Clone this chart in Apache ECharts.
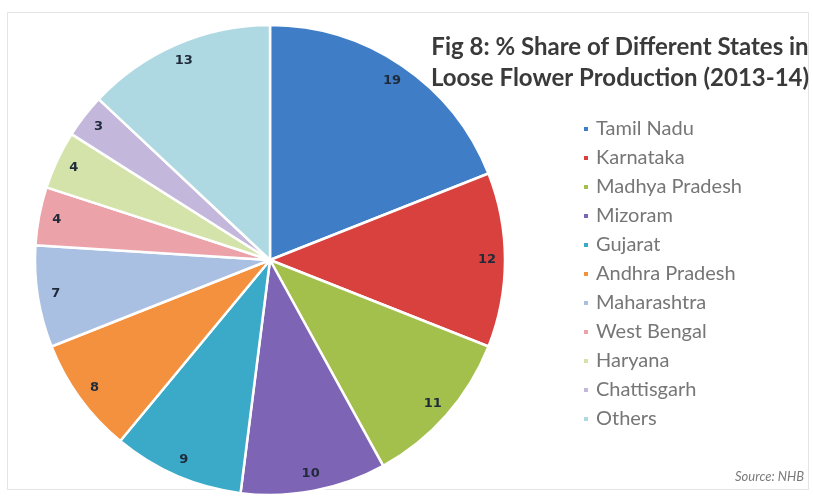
<!DOCTYPE html>
<html>
<head>
<meta charset="utf-8">
<script src="https://cdn.jsdelivr.net/npm/echarts@6/dist/echarts.min.js"></script>
<style>
  html, body { margin: 0; padding: 0; background: #ffffff; }
  #chart { width: 813px; height: 496px; }
</style>
</head>
<body>
<div id="chart"></div>
<script>
// State-wise share of loose flower production, 2013-14 (%)
const states = ['Tamil Nadu', 'Karnataka', 'Madhya Pradesh', 'Mizoram', 'Gujarat',
  'Andhra Pradesh', 'Maharashtra', 'West Bengal', 'Haryana', 'Chattisgarh', 'Others'];
const shares = [19, 12, 11, 10, 9, 8, 7, 4, 4, 3, 13];
const sliceColors = ['#3f7dc6', '#d8413d', '#a3bf4c', '#7e64b4', '#3aaac8', '#f3913f',
  '#a9c0e2', '#eba2a8', '#d4e3a9', '#c4b7dc', '#aed9e3'];

const titleLines = ['Fig 8: % Share of Different States in', 'Loose Flower Production (2013-14)'];
const sourceNote = 'Source: NHB';

const pieData = states.map((name, i) => ({
  name: name,
  value: shares[i],
  itemStyle: { color: sliceColors[i] }
}));

const chart = echarts.init(document.getElementById('chart'), null, { renderer: 'canvas' });

chart.setOption({
  backgroundColor: '#ffffff',
  animation: false,
  title: {
    text: titleLines.join('\n'),
    left: 615,
    top: 27,
    textAlign: 'center',
    textStyle: {
      fontFamily: 'Lato',
      fontWeight: 'bold',
      fontSize: 24,
      lineHeight: 31,
      color: '#3a3a3a'
    }
  },
  legend: {
    orient: 'vertical',
    left: 577,
    top: 114,
    itemWidth: 6,
    itemHeight: 6,
    itemGap: 9,
    icon: 'rect',
    data: states,
    textStyle: {
      fontFamily: 'Lato',
      fontSize: 20,
      lineHeight: 20,
      color: '#767676',
      padding: [0, 0, 0, 2]
    }
  },
  graphic: [
    {
      type: 'rect',
      shape: { x: 7.5, y: 12.5, width: 801, height: 477 },
      style: { fill: 'none', stroke: '#e4e4e4', lineWidth: 1 },
      z: -1
    },
    {
      type: 'text',
      right: 9,
      top: 470,
      style: {
        text: sourceNote,
        fontFamily: 'Lato',
        fontStyle: 'italic',
        fontSize: 13,
        fill: '#7a7a7a'
      }
    }
  ],
  series: [
    {
      name: 'share',
      type: 'pie',
      center: [270, 260],
      radius: [0, 235],
      startAngle: 90,
      clockwise: true,
      avoidLabelOverlap: false,
      label: { show: false },
      labelLine: { show: false },
      itemStyle: { borderColor: '#ffffff', borderWidth: 2.5 },
      emphasis: { disabled: true },
      data: pieData
    },
    {
      // transparent ring that carries the value labels near the outer edge
      name: 'labels',
      type: 'pie',
      center: [270, 260],
      radius: [193, 235],
      startAngle: 90,
      clockwise: true,
      silent: true,
      avoidLabelOverlap: false,
      itemStyle: { color: 'rgba(0,0,0,0)', borderWidth: 0 },
      labelLine: { show: false },
      label: {
        show: true,
        position: 'inside',
        formatter: '{c}',
        fontFamily: 'DejaVu Sans',
        fontWeight: 'bold',
        fontSize: 13,
        color: '#1f2a3a'
      },
      emphasis: { disabled: true },
      data: states.map((name, i) => ({ name: name, value: shares[i] }))
    }
  ]
});
</script>
</body>
</html>
